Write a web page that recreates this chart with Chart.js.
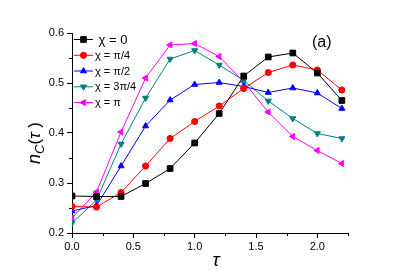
<!DOCTYPE html>
<html lang="en">
<head>
  <meta charset="UTF-8" />
  <title>n_C(tau)</title>
  <script src="https://cdn.jsdelivr.net/npm/chart.js"></script>
  <style>
    * { margin: 0; padding: 0; box-sizing: border-box; }
    body { background: #fff; width: 403px; height: 280px; overflow: hidden; }
    canvas { display: block; }
  </style>
</head>
<body>
  <canvas id="chart" width="403" height="280"></canvas>

  <script>
    // data
    const tau = [0, 0.2, 0.4, 0.6, 0.8, 1.0, 1.2, 1.4, 1.6, 1.8, 2.0, 2.2];
    const chi0    = [0.274, 0.273, 0.273, 0.299, 0.329, 0.380, 0.439, 0.514, 0.552, 0.560, 0.520, 0.465];
    const chiPi4  = [0.253, 0.252, 0.281, 0.334, 0.389, 0.423, 0.454, 0.489, 0.521, 0.536, 0.526, 0.486];
    const chiPi2  = [0.244, 0.255, 0.334, 0.414, 0.466, 0.497, 0.501, 0.493, 0.481, 0.490, 0.480, 0.449];
    const chi3Pi4 = [0.220, 0.266, 0.378, 0.470, 0.548, 0.565, 0.536, 0.505, 0.464, 0.429, 0.399, 0.389];
    const chiPi   = [0.230, 0.282, 0.402, 0.510, 0.576, 0.579, 0.553, 0.502, 0.442, 0.393, 0.365, 0.339];

    const seriesLabels = [' \u03c7 = 0', '\u03c7 = \u03c0/4', '\u03c7 = \u03c0/2', '\u03c7 = 3\u03c0/4', '\u03c7 = \u03c0'];
    const xTicks = [0, 0.5, 1.0, 1.5, 2.0];
    const xMinor = [0.25, 0.75, 1.25, 1.75, 2.25];
    const yTicks = [0.2, 0.3, 0.4, 0.5, 0.6];
    const yMinor = [0.25, 0.35, 0.45, 0.55];

    const FONT = '"Liberation Sans", Arial, sans-serif';

    function series(label, values, color, style, rot, r) {
      return {
        label: label,
        data: tau.map((t, i) => ({ x: t, y: values[i] })),
        borderColor: color,
        backgroundColor: color,
        borderWidth: 1,
        pointStyle: style,
        rotation: rot,
        pointRadius: r,
        pointBorderWidth: 1,
        pointHoverRadius: r
      };
    }

    const datasets = [
      series(seriesLabels[0], chi0, '#000000', 'rect', 0, 4),
      series(seriesLabels[1], chiPi4, '#ff0000', 'circle', 0, 3.1),
      series(seriesLabels[2], chiPi2, '#0000ff', 'triangle', 0, 3.5),
      series(seriesLabels[3], chi3Pi4, '#008080', 'triangle', 180, 3.5),
      series(seriesLabels[4], chiPi, '#ff00ff', 'triangle', 270, 3.5)
    ];

    // minor ticks, titles, panel letter and the inside legend
    const decorations = {
      id: 'decorations',
      afterDraw(chart) {
        const ctx = chart.ctx;
        const xs = chart.scales.x, ys = chart.scales.y;
        const area = chart.chartArea;
        ctx.save();
        ctx.strokeStyle = '#000';
        ctx.lineWidth = 1;
        ctx.beginPath();
        xMinor.forEach(v => {
          const px = Math.round(xs.getPixelForValue(v)) + 0.5;
          ctx.moveTo(px, area.bottom);
          ctx.lineTo(px, area.bottom + 3);
        });
        yMinor.forEach(v => {
          const py = Math.round(ys.getPixelForValue(v)) + 0.5;
          ctx.moveTo(area.left - 3, py);
          ctx.lineTo(area.left, py);
        });
        ctx.stroke();

        ctx.fillStyle = '#000';
        ctx.textBaseline = 'alphabetic';

        // x title
        ctx.font = 'italic 19px ' + FONT;
        ctx.textAlign = 'center';
        ctx.fillText('\u03c4', 216, 266);

        // y title n_C(tau)
        ctx.save();
        ctx.translate(40, 143);
        ctx.rotate(-Math.PI / 2);
        ctx.textAlign = 'left';
        const parts = [
          { t: 'n', f: 'italic 18px ' + FONT, dy: 0 },
          { t: 'C', f: 'italic 13px ' + FONT, dy: 4 },
          { t: '(', f: '17px ' + FONT, dy: 0 },
          { t: '\u03c4', f: 'italic 17px ' + FONT, dy: 0 },
          { t: ' )', f: '17px ' + FONT, dy: 0 }
        ];
        let total = 0;
        parts.forEach(p => { ctx.font = p.f; p.w = ctx.measureText(p.t).width; total += p.w; });
        let cx = -total / 2;
        parts.forEach(p => { ctx.font = p.f; ctx.fillText(p.t, cx, p.dy); cx += p.w; });
        ctx.restore();

        // panel letter
        ctx.font = '16px ' + FONT;
        ctx.textAlign = 'left';
        ctx.fillText('(a)', 312, 47);

        // legend
        const rows = [39.5, 55.3, 71, 86.8, 102.6];
        chart.data.datasets.forEach((ds, i) => {
          const y = rows[i];
          ctx.strokeStyle = ds.borderColor;
          ctx.lineWidth = 1;
          ctx.beginPath();
          ctx.moveTo(74, y);
          ctx.lineTo(93, y);
          ctx.stroke();
          ctx.fillStyle = ds.backgroundColor;
          Chart.helpers.drawPoint(ctx, {
            pointStyle: ds.pointStyle,
            rotation: ds.rotation,
            radius: ds.pointRadius,
            borderWidth: 1
          }, 83.5, y);
          ctx.fillStyle = '#000';
          ctx.font = (i === 0 ? '13px ' : '11px ') + FONT;
          ctx.textBaseline = 'middle';
          ctx.fillText(ds.label, 95, y + 0.5);
        });
        ctx.restore();
      }
    };

    new Chart(document.getElementById('chart'), {
      type: 'line',
      data: { datasets: datasets },
      options: {
        responsive: false,
        animation: false,
        events: [],
        layout: { padding: { top: 33, right: 55, left: 0, bottom: 0 } },
        plugins: {
          legend: { display: false },
          tooltip: { enabled: false }
        },
        elements: { line: { tension: 0 } },
        scales: {
          x: {
            type: 'linear',
            min: 0,
            max: 2.25,
            afterBuildTicks: s => { s.ticks = xTicks.map(v => ({ value: v })); },
            afterFit: s => { s.height = 47; },
            border: { color: '#000', width: 1 },
            grid: { drawOnChartArea: false, color: '#000', tickLength: 5 },
            ticks: {
              color: '#000',
              padding: 2,
              maxRotation: 0,
              font: { family: FONT, size: 11 },
              callback: v => v.toFixed(1)
            }
          },
          y: {
            min: 0.2,
            max: 0.6,
            afterBuildTicks: s => { s.ticks = yTicks.map(v => ({ value: v })); },
            afterFit: s => { s.width = 72; },
            border: { color: '#000', width: 1 },
            grid: { drawOnChartArea: false, color: '#000', tickLength: 5 },
            ticks: {
              color: '#000',
              padding: 3,
              font: { family: FONT, size: 11 },
              callback: v => v.toFixed(1)
            }
          }
        }
      },
      plugins: [decorations]
    });
  </script>
</body>
</html>
